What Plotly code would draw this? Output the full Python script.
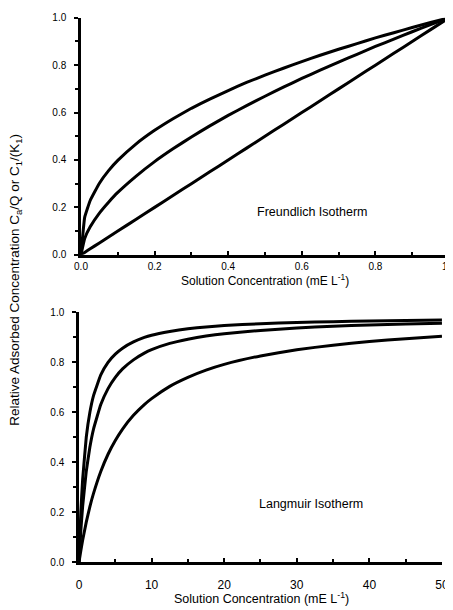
import plotly.graph_objects as go

# Freundlich isotherm (top panel)
fr_x = [0, 0.01, 0.025, 0.05, 0.075, 0.1, 0.15, 0.2, 0.25, 0.3, 0.35, 0.4, 0.45, 0.5,
        0.55, 0.6, 0.65, 0.7, 0.75, 0.8, 0.85, 0.9, 0.95, 1.0]
fr_high = [0, 0.158, 0.229, 0.302, 0.355, 0.398, 0.468, 0.525, 0.574, 0.618, 0.657, 0.693, 0.727,
           0.758, 0.787, 0.815, 0.842, 0.867, 0.891, 0.915, 0.937, 0.959, 0.980, 1.0]
fr_mid = [0, 0.069, 0.118, 0.176, 0.222, 0.263, 0.332, 0.393, 0.447, 0.497, 0.544, 0.588, 0.629,
          0.669, 0.707, 0.744, 0.779, 0.813, 0.846, 0.879, 0.910, 0.941, 0.971, 1.0]
fr_low = [0, 0.01, 0.025, 0.05, 0.075, 0.10, 0.15, 0.20, 0.25, 0.30, 0.35, 0.40, 0.45, 0.50,
          0.55, 0.60, 0.65, 0.70, 0.75, 0.80, 0.85, 0.90, 0.95, 1.0]

# Langmuir isotherm (bottom panel)
la_x = [0, 0.25, 0.5, 1, 1.5, 2, 3, 4, 5, 6, 7.5, 9, 10, 12.5, 15, 17.5, 20, 25, 30, 35, 40, 45, 50]
la_high = [0, 0.20, 0.33, 0.50, 0.60, 0.667, 0.75, 0.80, 0.833, 0.857, 0.882, 0.90, 0.909, 0.924,
           0.935, 0.942, 0.948, 0.955, 0.96, 0.963, 0.966, 0.968, 0.97]
la_mid = [0, 0.125, 0.222, 0.363, 0.461, 0.533, 0.631, 0.695, 0.740, 0.774, 0.810, 0.837, 0.851,
          0.876, 0.893, 0.906, 0.915, 0.928, 0.938, 0.945, 0.950, 0.954, 0.957]
la_low = [0, 0.045, 0.087, 0.160, 0.222, 0.275, 0.363, 0.432, 0.487, 0.533, 0.588, 0.631, 0.655,
          0.704, 0.740, 0.769, 0.792, 0.826, 0.851, 0.869, 0.884, 0.895, 0.905]

top_xticks = [0, 0.2, 0.4, 0.6, 0.8, 1.0]
top_xlabels = ["0.0", "0.2", "0.4", "0.6", "0.8", "1.0"]
bot_xticks = [0, 10, 20, 30, 40, 50]
bot_xlabels = ["0", "10", "20", "30", "40", "50"]
yticks = [0, 0.2, 0.4, 0.6, 0.8, 1.0]
ylabels = ["0.0", "0.2", "0.4", "0.6", "0.8", "1.0"]

x_title = "Solution Concentration (mE L<sup>-1</sup>)"
y_title = "Relative Adsorbed Concentration C<sub>a</sub>/Q or C<sub>1</sub>/(K<sub>1</sub>)"

FONT = "Liberation Sans, Arial, sans-serif"
line = dict(color="black", width=3, shape="spline", smoothing=0.3)

fig = go.Figure()
for ys in (fr_high, fr_mid, fr_low):
    fig.add_trace(go.Scatter(x=fr_x, y=ys, mode="lines", line=line,
                             xaxis="x", yaxis="y", showlegend=False))
for ys in (la_high, la_mid, la_low):
    fig.add_trace(go.Scatter(x=la_x, y=ys, mode="lines", line=line,
                             xaxis="x2", yaxis="y2", showlegend=False))

base = dict(showline=True, linecolor="black", linewidth=2.5,
            ticklen=4, tickwidth=2, tickcolor="black",
            showgrid=False, zeroline=False)

fig.update_layout(
    width=453, height=610,
    margin=dict(l=71, r=12, t=2, b=48),
    paper_bgcolor="white", plot_bgcolor="white",
    font=dict(family=FONT, color="black"),
    xaxis=dict(domain=[0.0054, 1], range=[0, 1.0], anchor="y",
               tickvals=top_xticks, ticktext=top_xlabels, ticks="inside",
               ticklabelstandoff=0,
               tickfont=dict(family=FONT, size=10, color="black"),
               minor=dict(dtick=0.1, ticks="inside", ticklen=3, tickcolor="black"),
               **base),
    yaxis=dict(domain=[0.568, 0.995], range=[0, 1.0], anchor="x",
               tickvals=yticks, ticktext=ylabels, ticks="outside",
               ticklabelstandoff=6,
               tickfont=dict(family=FONT, size=10, color="black"),
               minor=dict(dtick=0.1, ticks="outside", ticklen=3, tickcolor="black"),
               **base),
    xaxis2=dict(domain=[0, 0.981], range=[0, 50], anchor="y2",
                tickvals=bot_xticks, ticktext=bot_xlabels, ticks="inside",
                ticklabelstandoff=10,
                tickfont=dict(family=FONT, size=12, color="black"),
                minor=dict(dtick=5, ticks="inside", ticklen=3, tickcolor="black"),
                **base),
    yaxis2=dict(domain=[0.0143, 0.464], range=[0, 1.0], anchor="x2",
                tickvals=yticks, ticktext=ylabels, ticks="outside",
                ticklabelstandoff=6,
                tickfont=dict(family=FONT, size=10, color="black"),
                minor=dict(dtick=0.1, ticks="outside", ticklen=3, tickcolor="black"),
                **base),
)

fig.add_annotation(x=0.503, y=0.522, xref="paper", yref="paper", text=x_title,
                   xanchor="center", yanchor="middle", showarrow=False,
                   font=dict(family=FONT, size=12, color="black"))
fig.add_annotation(x=0.492, y=-0.05, xref="paper", yref="paper", text=x_title,
                   xanchor="center", yanchor="middle", showarrow=False,
                   font=dict(family=FONT, size=12.5, color="black"))
fig.add_annotation(x=0.628, y=0.181, xref="x", yref="y", text="Freundlich Isotherm",
                   showarrow=False, font=dict(family=FONT, size=12.5, color="black"))
fig.add_annotation(x=32, y=0.234, xref="x2", yref="y2", text="Langmuir Isotherm",
                   showarrow=False, font=dict(family=FONT, size=12.5, color="black"))
fig.add_annotation(x=-0.170, y=0.523, xref="paper", yref="paper",
                   xanchor="center", yanchor="middle", text=y_title,
                   textangle=-90, showarrow=False,
                   font=dict(family=FONT, size=13.5, color="black"))

fig.write_html("out.html")
